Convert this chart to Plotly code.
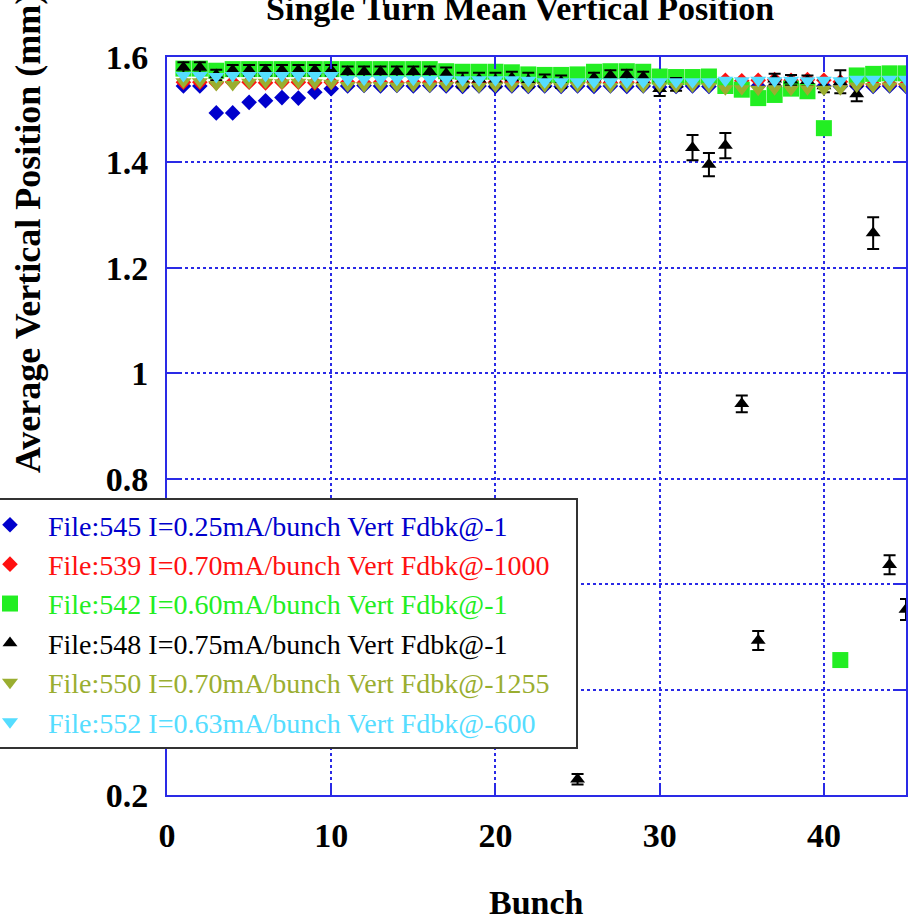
import plotly.graph_objects as go

# ---------------- data ----------------
bunch = list(range(1, 46))

v545 = [1.545, 1.545, 1.494, 1.494, 1.514, 1.517, 1.523, 1.522, 1.533, 1.540,
        1.545, 1.546, 1.545, 1.546, 1.545, 1.546, 1.545, 1.544, 1.545, 1.544,
        1.545, 1.544, 1.545, 1.544, 1.545, 1.544, 1.545, 1.544, 1.545, 1.543,
        1.544, 1.545, 1.544, 1.545, 1.544, 1.545, 1.544, 1.545, 1.544, 1.545,
        1.544, 1.545, 1.544, 1.545, 1.544]

v539 = [1.552, 1.552, 1.551, 1.552, 1.552, 1.551, 1.552, 1.552, 1.551, 1.552,
        1.552, 1.551, 1.552, 1.551, 1.552, 1.552, 1.551, 1.552, 1.551, 1.552,
        1.552, 1.551, 1.552, 1.551, 1.552, 1.552, 1.551, 1.552, 1.551, 1.552,
        1.552, 1.551, 1.553, 1.556, 1.555, 1.556, 1.557, 1.556, 1.557, 1.556,
        1.553, 1.549, 1.548, 1.549, 1.548]

v542 = [1.578, 1.578, 1.574, 1.577, 1.577, 1.577, 1.577, 1.577, 1.577, 1.577,
        1.577, 1.577, 1.577, 1.577, 1.577, 1.577, 1.573, 1.572, 1.572, 1.572,
        1.571, 1.567, 1.566, 1.566, 1.567, 1.572, 1.573, 1.573, 1.572, 1.563,
        1.562, 1.562, 1.563, 1.545, 1.538, 1.522, 1.528, 1.540, 1.535, 1.465,
        0.456, 1.565, 1.568, 1.569, 1.569]

v548 = [1.580, 1.580, 1.566, 1.575, 1.575, 1.575, 1.575, 1.575, 1.575, 1.575,
        1.572, 1.572, 1.572, 1.572, 1.572, 1.572, 1.568, 1.556, 1.558, 1.556,
        1.560, 1.556, 1.555, 1.553, 0.230, 1.560, 1.565, 1.566, 1.562, 1.540,
        1.548, 1.428, 1.396, 1.432, 0.942, 0.493, 1.558, 1.556, 1.555, 1.545,
        1.553, 1.530, 1.266, 0.637, 0.552]

e548 = [0.010, 0.010, 0.010, 0.010, 0.010, 0.010, 0.010, 0.010, 0.010, 0.010,
        0.010, 0.010, 0.010, 0.010, 0.010, 0.010, 0.012, 0.014, 0.012, 0.014,
        0.012, 0.014, 0.012, 0.012, 0.010, 0.010, 0.010, 0.010, 0.010, 0.014,
        0.012, 0.024, 0.022, 0.024, 0.016, 0.018, 0.010, 0.010, 0.010, 0.012,
        0.022, 0.014, 0.030, 0.018, 0.020]

v550 = [1.553, 1.553, 1.548, 1.548, 1.552, 1.552, 1.551, 1.552, 1.551, 1.550,
        1.546, 1.545, 1.546, 1.545, 1.546, 1.545, 1.546, 1.545, 1.544, 1.545,
        1.545, 1.544, 1.545, 1.544, 1.545, 1.545, 1.544, 1.545, 1.544, 1.545,
        1.544, 1.545, 1.544, 1.540, 1.540, 1.539, 1.540, 1.539, 1.540, 1.539,
        1.540, 1.545, 1.544, 1.545, 1.544]

v552 = [1.565, 1.565, 1.563, 1.565, 1.565, 1.565, 1.565, 1.565, 1.565, 1.565,
        1.558, 1.558, 1.558, 1.558, 1.558, 1.558, 1.558, 1.557, 1.557, 1.557,
        1.557, 1.556, 1.553, 1.553, 1.553, 1.553, 1.553, 1.553, 1.553, 1.553,
        1.553, 1.553, 1.553, 1.556, 1.555, 1.556, 1.555, 1.556, 1.555, 1.556,
        1.555, 1.558, 1.558, 1.558, 1.558]

names = ["File:545 I=0.25mA/bunch Vert Fdbk@-1",
         "File:539 I=0.70mA/bunch Vert Fdbk@-1000",
         "File:542 I=0.60mA/bunch Vert Fdbk@-1",
         "File:548 I=0.75mA/bunch Vert Fdbk@-1",
         "File:550 I=0.70mA/bunch Vert Fdbk@-1255",
         "File:552 I=0.63mA/bunch Vert Fdbk@-600"]

# ---------------- styles ----------------
BLUE = "#0000cc"
RED = "#ff1010"
GREEN = "#22ee22"
BLACK = "#000000"
OLIVE = "#9aae30"
CYAN = "#55ddff"
AXIS = "#2a2ae6"
SERIF = "Liberation Serif, Times New Roman, serif"


def lab(text, color):
    return '<span style="color:%s">%s</span>&nbsp;&nbsp;&nbsp;' % (color, text)


fig = go.Figure()
fig.add_trace(go.Scatter(x=bunch, y=v545, mode="markers", name=lab(names[0], BLUE),
                         marker=dict(symbol="diamond", size=12, color=BLUE, line=dict(width=0))))
fig.add_trace(go.Scatter(x=bunch, y=v539, mode="markers", name=lab(names[1], RED),
                         marker=dict(symbol="diamond", size=12, color=RED, line=dict(width=0))))
fig.add_trace(go.Scatter(x=bunch, y=v542, mode="markers", name=lab(names[2], GREEN),
                         marker=dict(symbol="square", size=16, color=GREEN, line=dict(width=0))))
fig.add_trace(go.Scatter(x=bunch, y=v548, mode="markers", name=lab(names[3], BLACK),
                         marker=dict(symbol="triangle-up", size=13, color=BLACK, line=dict(width=0)),
                         error_y=dict(type="data", array=e548, color=BLACK, thickness=2, width=6)))
fig.add_trace(go.Scatter(x=bunch, y=v550, mode="markers", name=lab(names[4], OLIVE),
                         marker=dict(symbol="triangle-down", size=14, color=OLIVE, line=dict(width=0))))
fig.add_trace(go.Scatter(x=bunch, y=v552, mode="markers", name=lab(names[5], CYAN),
                         marker=dict(symbol="triangle-down", size=14, color=CYAN, line=dict(width=0))))

axis_common = dict(
    showline=True, linecolor=AXIS, linewidth=2, mirror="ticks",
    ticks="inside", ticklen=12, tickwidth=2, tickcolor=AXIS,
    showgrid=True, gridcolor=AXIS, gridwidth=1.5, griddash="dot",
    zeroline=False,
    tickfont=dict(family=SERIF, size=34, color="black", weight="bold"),
)

fig.update_xaxes(range=[0, 45], tick0=0, dtick=10, ticklabelstandoff=9, **axis_common)
fig.update_yaxes(range=[0.2, 1.6], tick0=0.2, dtick=0.2, ticklabelstandoff=10, **axis_common)

fig.update_layout(
    width=911, height=918,
    margin=dict(l=167, r=5, t=57, b=123, autoexpand=False),
    paper_bgcolor="white", plot_bgcolor="white",
    title=dict(text="<b>Single Turn Mean Vertical Position</b>",
               font=dict(family=SERIF, size=34, color="black"),
               x=0.571, xanchor="center", xref="container",
               y=0.9913, yanchor="middle", yref="container"),
    showlegend=True,
    legend=dict(x=-0.2666, xanchor="left", y=0.4024, yanchor="top",
                bgcolor="white", bordercolor="#333333", borderwidth=2,
                itemwidth=66, font=dict(family=SERIF, size=28, color="black"),
                tracegroupgap=0),
    annotations=[
        dict(text="<b>Bunch</b>", x=0.5, y=-0.1463, xref="paper", yref="paper",
             xanchor="center", yanchor="middle", showarrow=False,
             font=dict(family=SERIF, size=34, color="black")),
        dict(text="<b>Average Vertical Position (mm)</b>", x=-0.189, y=0.762,
             xref="paper", yref="paper", xanchor="center", yanchor="middle",
             textangle=-90, showarrow=False,
             font=dict(family=SERIF, size=36, color="black")),
    ],
)

fig.write_html("out.html")
